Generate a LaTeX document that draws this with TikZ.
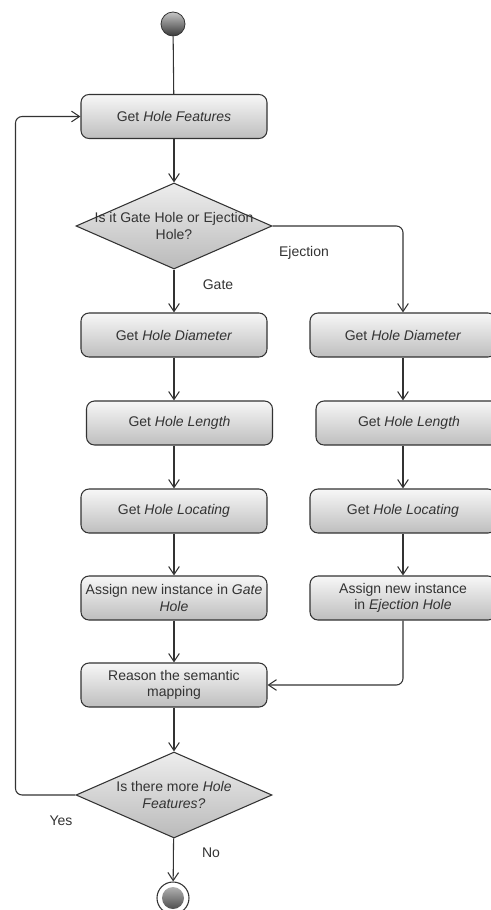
\documentclass[tikz,border=0pt]{standalone}
\usepackage{fontspec}
\setmainfont{Liberation Sans}
\usetikzlibrary{arrows.meta,shapes.geometric}
\definecolor{hfInk}{HTML}{333333}
\definecolor{hfTop}{HTML}{F7F7F7}
\definecolor{hfBottom}{HTML}{BEBEBE}
\newcommand{\hfFont}{\fontsize{10.5}{12.5}\selectfont}
\tikzset{
  hf action/.style={rectangle, rounded corners=6pt, draw=hfInk, line width=0.8pt, top color=hfTop, bottom color=hfBottom, minimum width=139.5pt, minimum height=33pt, inner sep=2pt, align=center, font=\hfFont, text=hfInk},
  hf decision/.style={diamond, draw=hfInk, line width=0.8pt, top color=black!7, bottom color=black!27, minimum width=147pt, minimum height=64.5pt, inner sep=0pt},
  hf question/.style={align=center, font=\hfFont, text=hfInk, inner sep=0pt},
  hf label/.style={font=\hfFont, text=hfInk},
  hf start/.style={circle, draw=black!80, line width=0.6pt, top color=black!22, bottom color=black!78, minimum size=18pt, inner sep=0pt},
  hf finish/.style={circle, draw=hfInk, line width=0.8pt, fill=white, minimum size=24pt, inner sep=0pt,
    path picture={\shade[top color=black!22, bottom color=black!78] (path picture bounding box.center) circle (8.25pt);}},
  hf line/.style={draw=hfInk, line width=0.8pt},
  hf flow/.style={hf line, -{Straight Barb[length=6pt, width=8pt]}},
}
\begin{document}
\begin{tikzpicture}[x=0.75pt,y=-0.75pt]
  \useasboundingbox (0,0) rectangle (491,910);
  \clip (0,0) rectangle (491,910);
  % start and first step
  \node[hf start] (start) at (173,24) {};
  \node[hf action] (features) at (174,116.5) {Get \textit{Hole Features}};
  \node[hf decision] (qtype) at (174,226) {};
  \node[hf question] (qtypetxt) at (qtype) {Is it Gate Hole or Ejection\\Hole?};
  % gate branch
  \node[hf action] (gDiam) at (174,335) {Get \textit{Hole Diameter}};
  \node[hf action] (gLen) at (179.5,423) {Get \textit{Hole Length}};
  \node[hf action] (gLoc) at (174,511) {Get \textit{Hole Locating}};
  \node[hf action] (gAssign) at (174,598) {Assign new instance in \textit{Gate}\\\textit{Hole}};
  % ejection branch
  \node[hf action] (eDiam) at (403,335) {Get \textit{Hole Diameter}};
  \node[hf action] (eLen) at (409,423) {Get \textit{Hole Length}};
  \node[hf action] (eLoc) at (403,511) {Get \textit{Hole Locating}};
  \node[hf action] (eAssign) at (403,598) {Assign new instance\\in \textit{Ejection Hole}};
  % join, loop test and end
  \node[hf action] (reason) at (174,685) {Reason the semantic\\mapping};
  \node[hf decision] (qmore) at (174,795) {};
  \node[hf question] (qmoretxt) at (qmore) {Is there more \textit{Hole}\\\textit{Features?}};
  \node[hf finish] (finish) at (173,898) {};
  % branch labels
  \node[hf label] (lEject) at (304,253) {Ejection};
  \node[hf label] (lGate) at (218,285) {Gate};
  \node[hf label] (lYes) at (61,821) {Yes};
  \node[hf label] (lNo) at (211,853) {No};
  % connectors
  \draw[hf line] (start) -- (features);
  \draw[hf flow] (features) -- (qtype);
  \draw[hf flow] (qtype) -- (gDiam);
  \draw[hf flow, rounded corners=5pt] (qtype.east) -| (eDiam.north);
  \draw[hf flow] (gDiam.south) -- (gDiam.south |- gLen.north);
  \draw[hf flow] (gLoc.north |- gLen.south) -- (gLoc.north);
  \draw[hf flow] (gLoc) -- (gAssign);
  \draw[hf flow] (eDiam.south) -- (eDiam.south |- eLen.north);
  \draw[hf flow] (eLoc.north |- eLen.south) -- (eLoc.north);
  \draw[hf flow] (eLoc) -- (eAssign);
  \draw[hf flow] (gAssign) -- (reason);
  \draw[hf flow, rounded corners=5pt] (eAssign.south) |- (reason.east);
  \draw[hf flow] (reason) -- (qmore);
  \draw[hf flow] (qmore) -- (finish);
  \draw[hf flow, rounded corners=5pt] (qmore.west) -- ++(-60,0) |- (features.west);
\end{tikzpicture}
\end{document}
